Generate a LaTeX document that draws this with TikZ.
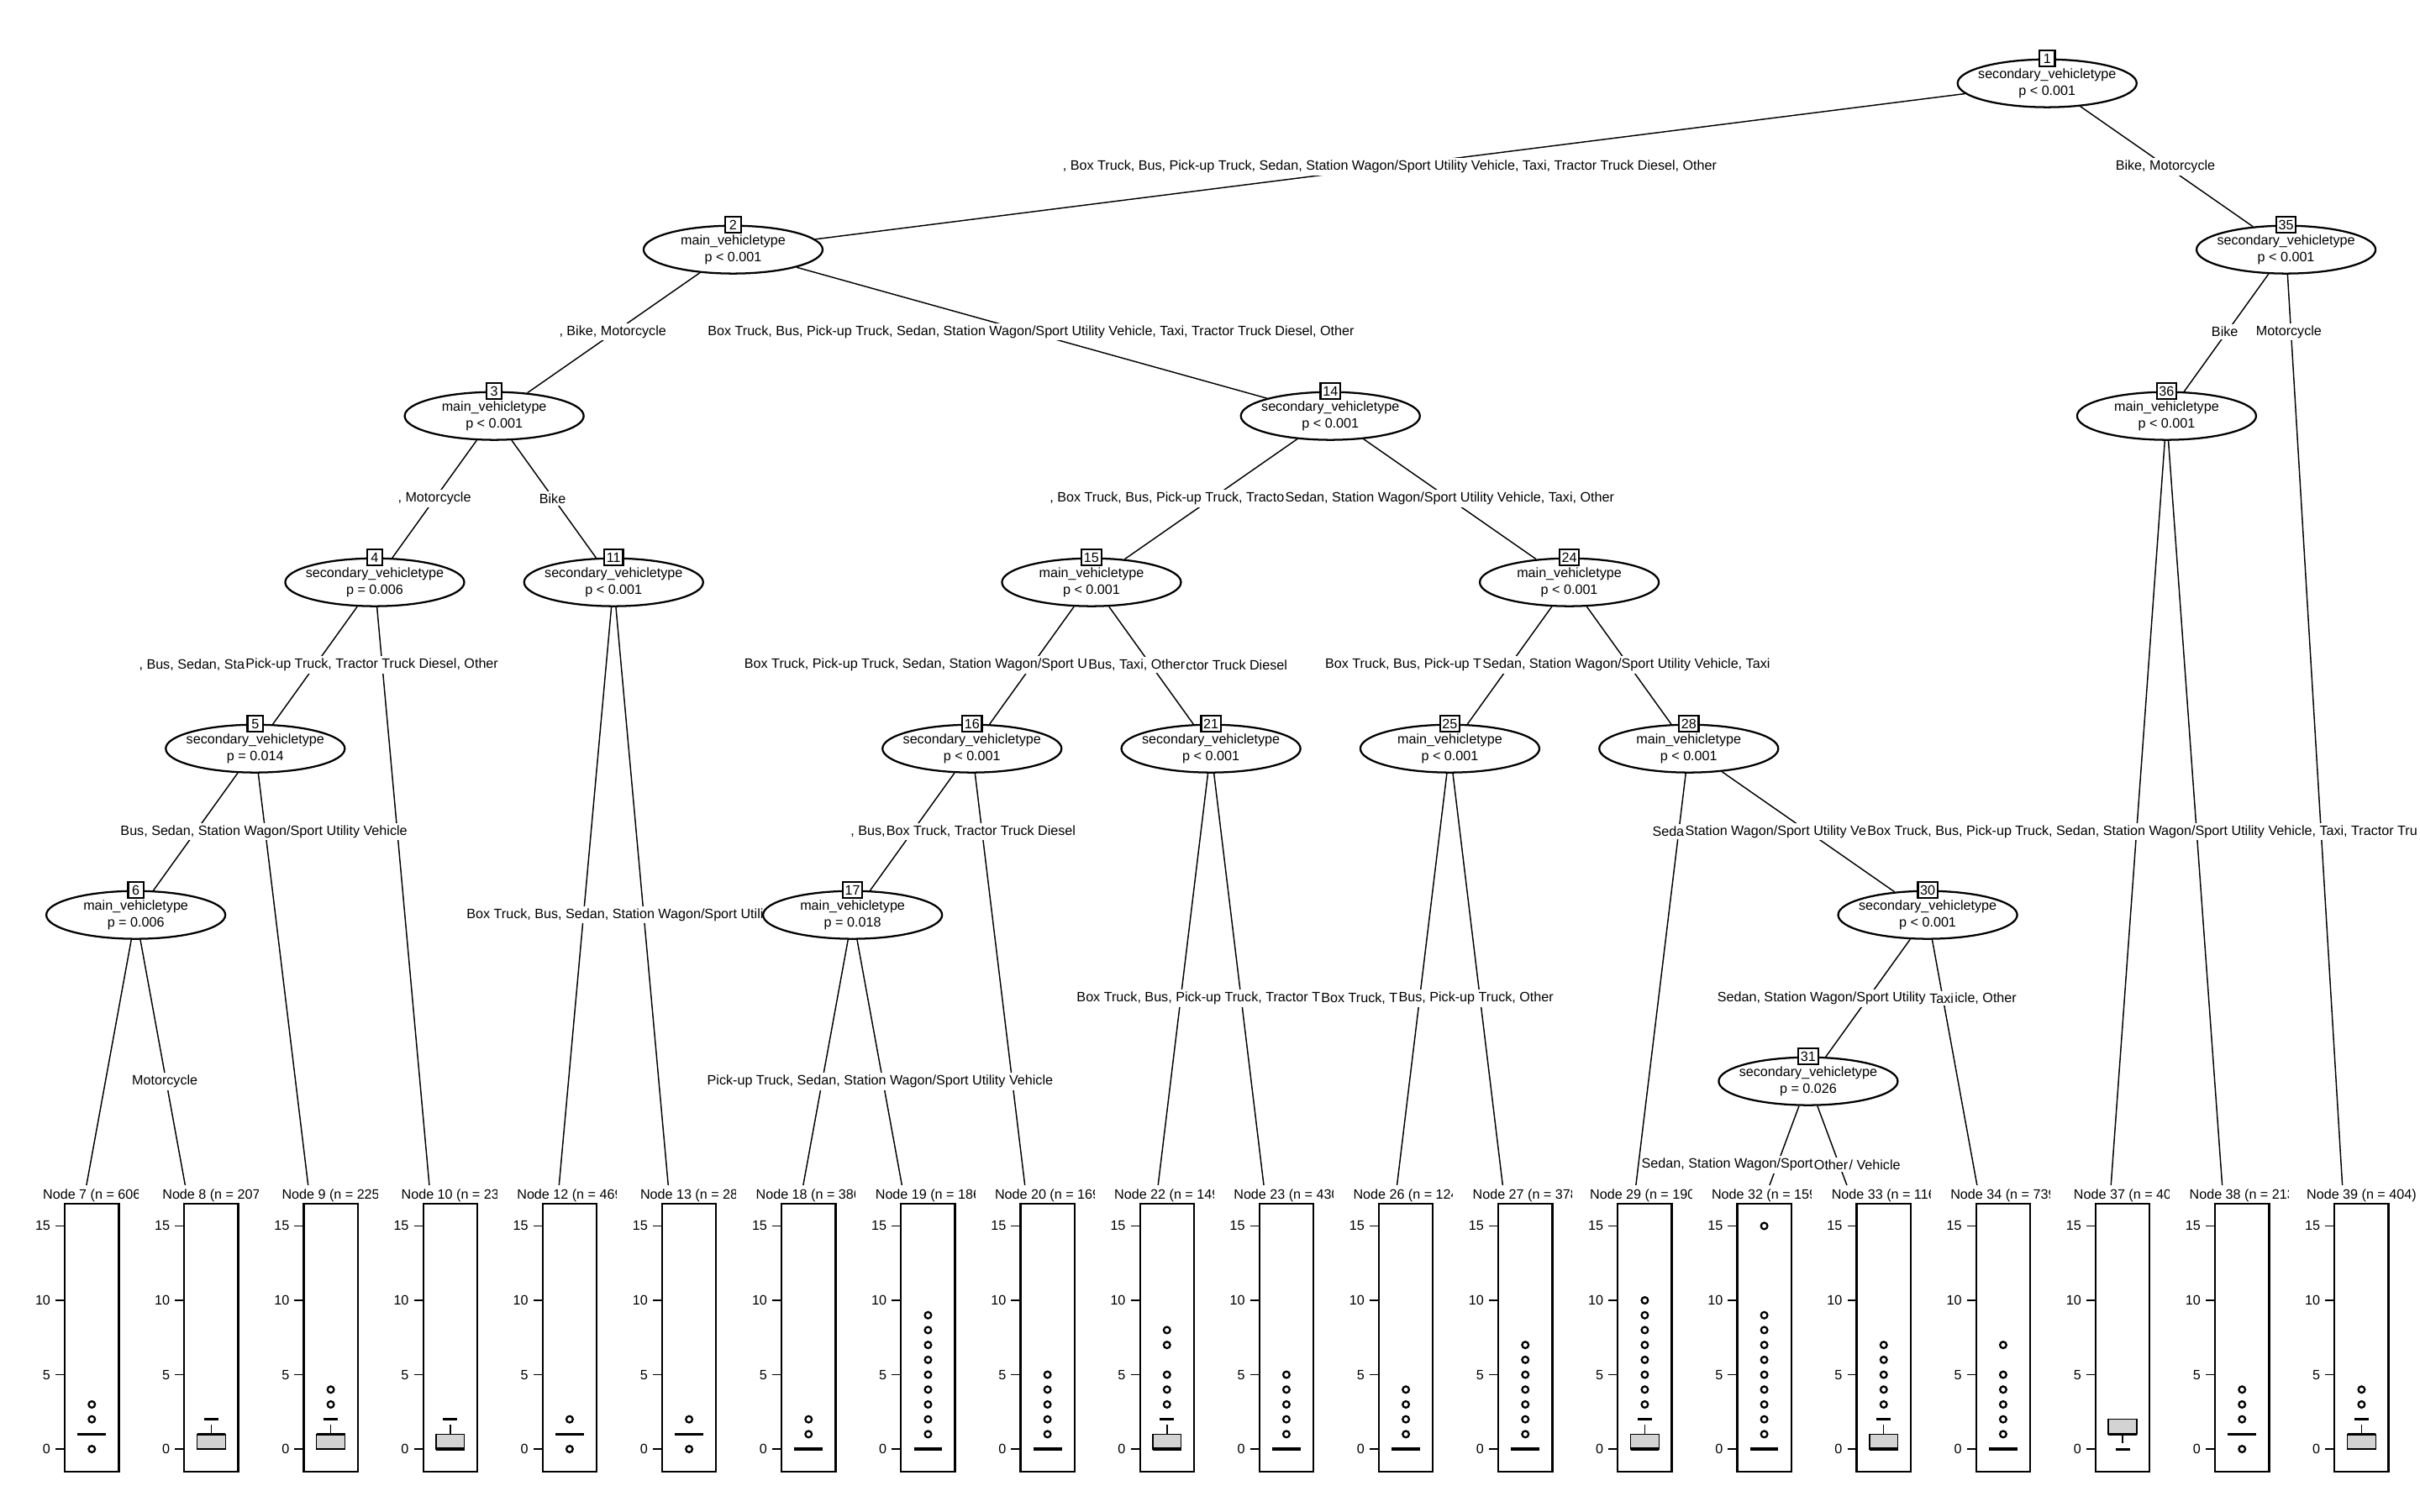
\documentclass[tikz,border=0pt]{standalone}
\usepackage{fontspec}
\setmainfont{Liberation Sans}
\usetikzlibrary{shapes.geometric}

\pgfdeclarelayer{bg}
\pgfdeclarelayer{edges}
\pgfdeclarelayer{elabels}
\pgfsetlayers{bg,edges,elabels,main}

% terminal panel: column, node id, title
\newcommand{\tpanel}[3]{%
  \pgfmathsetmacro{\pvx}{49.3+77.4*#1}%
  \pgfmathsetmacro{\pcx}{\pvx+10.2}%
  \fill[white] (\pvx-36.6,768) rectangle (\pvx+40.8,980);
  \coordinate (t#2) at (\pvx,805);
  \node[tlab] (l#2) at (\pcx,775) {#3};
  \draw[pbox] (\pcx-17.5,780.3) rectangle (\pcx+17.5,953.7);
  \foreach \tv in {0,5,10,15} {
    \draw[tickmark] (\pcx-23.5,939.2-9.64*\tv) -- (\pcx-17.5,939.2-9.64*\tv);
    \node[ticklab] (k#2x\tv) at (\pcx-26.5,939.2-9.64*\tv) {\tv};
  }
}
% boxplot parts
\newcommand{\bpbox}[2]{\draw[qbox] (\pcx-9.2,939.2-9.64*#1) rectangle (\pcx+9.2,939.2-9.64*#2);}
\newcommand{\bpmed}[1]{\draw[med] (\pcx-9.2,939.2-9.64*#1) -- (\pcx+9.2,939.2-9.64*#1);}
\newcommand{\bpwhisk}[2]{%
  \draw[whisk] (\pcx,939.2-9.64*#1) -- (\pcx,939.2-9.64*#2);
  \draw[wcap] (\pcx-4.6,939.2-9.64*#2) -- (\pcx+4.6,939.2-9.64*#2);}
\newcommand{\bpout}[1]{\foreach \ov in {#1} {\draw[outl] (\pcx,939.2-9.64*\ov) circle[radius=2.1];}}

\begin{document}
\begin{tikzpicture}[x=0.2mm, y=-0.2mm, font=\fontsize{5}{6}\selectfont]
        \tikzstyle{splitnode}=[draw, ellipse, fill=white, line width=0.7pt, minimum width=23.2mm, minimum height=6.2mm, inner xsep=-2.5mm, inner ysep=0pt, align=center];
        \tikzstyle{idbox}=[draw, fill=white, line width=0.7pt, inner xsep=0.3mm, inner ysep=0pt, minimum width=2mm, minimum height=2.05mm];
        \tikzstyle{link}=[line width=0.45pt];
        \tikzstyle{elab}=[fill=white, inner xsep=0pt, inner ysep=0.3mm];
        \tikzstyle{tlab}=[inner sep=0pt];
        \tikzstyle{ticklab}=[anchor=east, inner sep=0pt];
        \tikzstyle{tickmark}=[line width=0.4pt];
        \tikzstyle{pbox}=[line width=0.7pt];
        \tikzstyle{qbox}=[draw, fill={rgb,255:red,211;green,211;blue,211}, line width=0.45pt];
        \tikzstyle{med}=[line width=1.1pt];
        \tikzstyle{whisk}=[line width=0.45pt, dash pattern=on 1.2mm off 0.8mm];
        \tikzstyle{wcap}=[line width=0.9pt];
        \tikzstyle{outl}=[line width=0.7pt];

        \begin{pgfonlayer}{bg}
        \fill[white] (0,0) rectangle (1568,980);
        \end{pgfonlayer}
        \path[use as bounding box] (0,0) rectangle (1568,980);

        % inner nodes
        \node[splitnode] (n1) at (1326.4,54) {secondary\_vehicletype\\p < 0.001};
        \node[splitnode] (n2) at (475.0,161.8) {main\_vehicletype\\p < 0.001};
        \node[splitnode] (n35) at (1481.2,161.8) {secondary\_vehicletype\\p < 0.001};
        \node[splitnode] (n3) at (320.2,269.6) {main\_vehicletype\\p < 0.001};
        \node[splitnode] (n14) at (862.0,269.6) {secondary\_vehicletype\\p < 0.001};
        \node[splitnode] (n36) at (1403.8,269.6) {main\_vehicletype\\p < 0.001};
        \node[splitnode] (n4) at (242.8,377.4) {secondary\_vehicletype\\p = 0.006};
        \node[splitnode] (n11) at (397.6,377.4) {secondary\_vehicletype\\p < 0.001};
        \node[splitnode] (n15) at (707.2,377.4) {main\_vehicletype\\p < 0.001};
        \node[splitnode] (n24) at (1016.8,377.4) {main\_vehicletype\\p < 0.001};
        \node[splitnode] (n5) at (165.4,485.2) {secondary\_vehicletype\\p = 0.014};
        \node[splitnode] (n16) at (629.8,485.2) {secondary\_vehicletype\\p < 0.001};
        \node[splitnode] (n21) at (784.6,485.2) {secondary\_vehicletype\\p < 0.001};
        \node[splitnode] (n25) at (939.4,485.2) {main\_vehicletype\\p < 0.001};
        \node[splitnode] (n28) at (1094.2,485.2) {main\_vehicletype\\p < 0.001};
        \node[splitnode] (n6) at (88.0,593) {main\_vehicletype\\p = 0.006};
        \node[splitnode] (n17) at (552.4,593) {main\_vehicletype\\p = 0.018};
        \node[splitnode] (n30) at (1249.0,593) {secondary\_vehicletype\\p < 0.001};
        \node[splitnode] (n31) at (1171.6,700.8) {secondary\_vehicletype\\p = 0.026};

        % node numbers
        \foreach \k in {1,2,3,4,5,6,11,14,15,16,17,21,24,25,28,30,31,35,36}
            \node[idbox] (id\k) at (n\k.north) {\k};

        % terminal nodes
        \tpanel{0}{7}{Node 7 (n = 606}
        \bpmed{1} \bpout{0,2,3}
        \tpanel{1}{8}{Node 8 (n = 207}
        \bpbox{0}{1} \bpwhisk{1}{2} \bpmed{1}
        \tpanel{2}{9}{Node 9 (n = 225}
        \bpbox{0}{1} \bpwhisk{1}{2} \bpmed{1} \bpout{3,4}
        \tpanel{3}{10}{Node 10 (n = 23}
        \bpbox{0}{1} \bpwhisk{1}{2} \bpmed{0}
        \tpanel{4}{12}{Node 12 (n = 469}
        \bpmed{1} \bpout{0,2}
        \tpanel{5}{13}{Node 13 (n = 28}
        \bpmed{1} \bpout{0,2}
        \tpanel{6}{18}{Node 18 (n = 386}
        \bpmed{0} \bpout{1,2}
        \tpanel{7}{19}{Node 19 (n = 186}
        \bpmed{0} \bpout{1,...,9}
        \tpanel{8}{20}{Node 20 (n = 169}
        \bpmed{0} \bpout{1,...,5}
        \tpanel{9}{22}{Node 22 (n = 149}
        \bpbox{0}{1} \bpwhisk{1}{2} \bpmed{0} \bpout{3,4,5,7,8}
        \tpanel{10}{23}{Node 23 (n = 430}
        \bpmed{0} \bpout{1,...,5}
        \tpanel{11}{26}{Node 26 (n = 124}
        \bpmed{0} \bpout{1,...,4}
        \tpanel{12}{27}{Node 27 (n = 378}
        \bpmed{0} \bpout{1,...,7}
        \tpanel{13}{29}{Node 29 (n = 190)}
        \bpbox{0}{1} \bpwhisk{1}{2} \bpmed{0} \bpout{3,...,10}
        \tpanel{14}{32}{Node 32 (n = 159}
        \bpmed{0} \bpout{1,...,9,15}
        \tpanel{15}{33}{Node 33 (n = 116}
        \bpbox{0}{1} \bpwhisk{1}{2} \bpmed{0} \bpout{3,...,7}
        \tpanel{16}{34}{Node 34 (n = 739}
        \bpmed{0} \bpout{1,2,3,4,5,7}
        \tpanel{17}{37}{Node 37 (n = 40}
        \bpbox{1}{2} \bpwhisk{1}{0} \bpmed{1}
        \tpanel{18}{38}{Node 38 (n = 213}
        \bpmed{1} \bpout{0,2,3,4}
        \tpanel{19}{39}{Node 39 (n = 404)}
        \bpbox{0}{1} \bpwhisk{1}{2} \bpmed{1} \bpout{3,4}

        % connectors
        \begin{pgfonlayer}{edges}
        \draw[link] (n1) -- (n2);
        \draw[link] (n1) -- (n35);
        \draw[link] (n2) -- (n3);
        \draw[link] (n2) -- (n14);
        \draw[link] (n3) -- (n4);
        \draw[link] (n3) -- (n11);
        \draw[link] (n4) -- (n5);
        \draw[link] (n4) -- (t10);
        \draw[link] (n5) -- (n6);
        \draw[link] (n5) -- (t9);
        \draw[link] (n6) -- (t7);
        \draw[link] (n6) -- (t8);
        \draw[link] (n11) -- (t12);
        \draw[link] (n11) -- (t13);
        \draw[link] (n14) -- (n15);
        \draw[link] (n14) -- (n24);
        \draw[link] (n15) -- (n16);
        \draw[link] (n15) -- (n21);
        \draw[link] (n16) -- (n17);
        \draw[link] (n16) -- (t20);
        \draw[link] (n17) -- (t18);
        \draw[link] (n17) -- (t19);
        \draw[link] (n21) -- (t22);
        \draw[link] (n21) -- (t23);
        \draw[link] (n24) -- (n25);
        \draw[link] (n24) -- (n28);
        \draw[link] (n25) -- (t26);
        \draw[link] (n25) -- (t27);
        \draw[link] (n28) -- (t29);
        \draw[link] (n28) -- (n30);
        \draw[link] (n30) -- (n31);
        \draw[link] (n30) -- (t34);
        \draw[link] (n31) -- (t32);
        \draw[link] (n31) -- (t33);
        \draw[link] (n35) -- (n36);
        \draw[link] (n35) -- (t39);
        \draw[link] (n36) -- (t37);
        \draw[link] (n36) -- (t38);
        \end{pgfonlayer}

        % split labels
        \begin{pgfonlayer}{elabels}
        \node[elab] (a1) at (900.5,108) {, Box Truck, Bus, Pick-up Truck, Sedan, Station Wagon/Sport Utility Vehicle, Taxi, Tractor Truck Diesel, Other};
        \node[elab] (a2) at (1403,108) {Bike, Motorcycle};
        \node[elab] (b1) at (397,215) {, Bike, Motorcycle};
        \node[elab] (b2) at (668,215) {Box Truck, Bus, Pick-up Truck, Sedan, Station Wagon/Sport Utility Vehicle, Taxi, Tractor Truck Diesel, Other};
        \node[elab] (b3) at (1441.5,215) {Bike};
        \node[elab] (b4) at (1483,215) {Motorcycle};
        \node[elab] (c1) at (281.5,323) {, Motorcycle};
        \node[elab] (c2) at (358,323) {Bike};
        \node[elab] (c4) at (939.3,323) {Sedan, Station Wagon/Sport Utility Vehicle, Taxi, Other};
        \node[elab, anchor=east] (c3) at (c4.west) {, Box Truck, Bus, Pick-up Truck, Tracto};
        \node[elab] (d2) at (241,431) {Pick-up Truck, Tractor Truck Diesel, Other};
        \node[elab, anchor=east] (d1) at (d2.west) {, Bus, Sedan, Sta};
        \node[elab] (d4) at (736.5,431) {Bus, Taxi, Other};
        \node[elab, anchor=east] (d3) at (d4.west) {Box Truck, Pick-up Truck, Sedan, Station Wagon/Sport U};
        \node[elab, anchor=west] (d5) at (d4.east) {ctor Truck Diesel};
        \node[elab] (d7) at (1053.7,431) {Sedan, Station Wagon/Sport Utility Vehicle, Taxi};
        \node[elab, anchor=east] (d6) at (d7.west) {Box Truck, Bus, Pick-up T};
        \node[elab] (e1) at (171,539) {Bus, Sedan, Station Wagon/Sport Utility Vehicle};
        \node[elab] (e3) at (635.6,539) {Box Truck, Tractor Truck Diesel};
        \node[elab, anchor=east] (e2) at (e3.west) {, Bus,};
        \node[elab, anchor=west] (e6) at (1209.6,539) {Box Truck, Bus, Pick-up Truck, Sedan, Station Wagon/Sport Utility Vehicle, Taxi, Tractor Tru};
        \node[elab, anchor=east] (e5) at (e6.west) {Station Wagon/Sport Utility Ve};
        \node[elab, anchor=east] (e4) at (e5.west) {Seda};
        \node[elab, anchor=west] (f1) at (302,593) {Box Truck, Bus, Sedan, Station Wagon/Sport Utili};
        \node[elab] (g3) at (956.4,647) {Bus, Pick-up Truck, Other};
        \node[elab, anchor=east] (g2) at (g3.west) {Box Truck, T};
        \node[elab, anchor=east] (g1) at (g2.west) {Box Truck, Bus, Pick-up Truck, Tractor T};
        \node[elab] (g5) at (1258,647) {Taxi};
        \node[elab, anchor=east] (g4) at ([xshift=-1pt]g5.west) {Sedan, Station Wagon/Sport Utility};
        \node[elab, anchor=west] (g6) at (g5.east) {icle, Other};
        \node[elab] (h1) at (106.8,701) {Motorcycle};
        \node[elab, anchor=east] (h2) at (682.6,701) {Pick-up Truck, Sedan, Station Wagon/Sport Utility Vehicle};
        \node[elab] (i2) at (1186.4,755) {Other};
        \node[elab, anchor=east] (i1) at (i2.west) {Sedan, Station Wagon/Sport};
        \node[elab, anchor=west] (i3) at (i2.east) {/ Vehicle};
        \end{pgfonlayer}
    \end{tikzpicture}
\end{document}
